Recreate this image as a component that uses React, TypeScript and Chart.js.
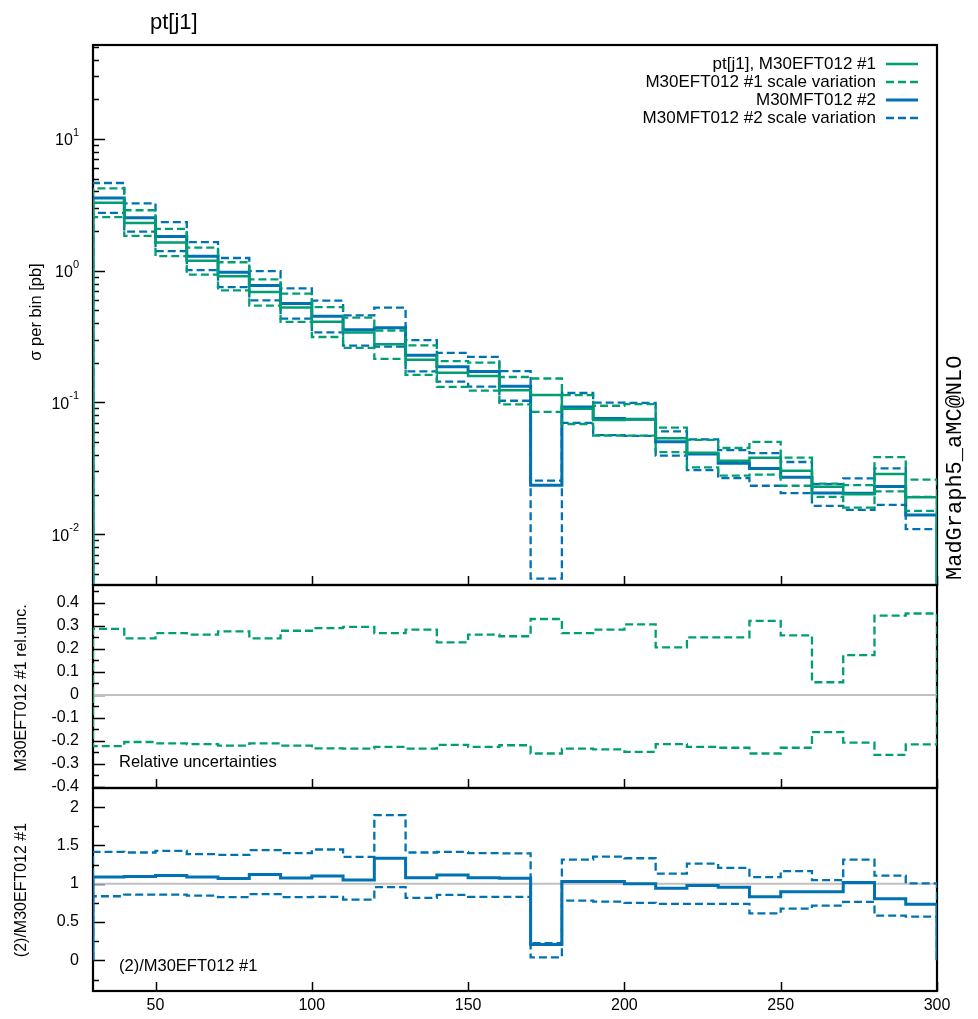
import React, { useEffect, useRef } from 'react';
import { Chart, registerables } from 'chart.js';

Chart.register(...registerables);

// ---- data -------------------------------------------------------------
const binEdges = [30, 40, 50, 60, 70, 80, 90, 100, 110, 120, 130, 140, 150, 160, 170, 180, 190, 200, 210, 220, 230, 240, 250, 260, 270, 280, 290, 300];

// pt[j1] cross section per bin [pb], M30EFT012 #1 (central + scale variation)
const eftCentral = [3.28, 2.31, 1.64, 1.19, 0.91, 0.69, 0.525, 0.41, 0.34, 0.277, 0.211, 0.168, 0.159, 0.124, 0.114, 0.0896, 0.0735, 0.0744, 0.0534, 0.0415, 0.0361, 0.038, 0.0303, 0.0229, 0.0201, 0.0286, 0.0191];
const eftScaleUp = [4.22, 2.88, 2.08, 1.5, 1.16, 0.86, 0.671, 0.529, 0.441, 0.352, 0.271, 0.206, 0.201, 0.156, 0.152, 0.1137, 0.0944, 0.0972, 0.0645, 0.0519, 0.0451, 0.0502, 0.0381, 0.0242, 0.0236, 0.0385, 0.0259];
const eftScaleDown = [2.55, 1.84, 1.29, 0.935, 0.709, 0.544, 0.409, 0.314, 0.26, 0.214, 0.162, 0.1315, 0.123, 0.0968, 0.0849, 0.0686, 0.0561, 0.0559, 0.042, 0.0321, 0.0278, 0.0283, 0.0233, 0.0192, 0.0159, 0.0211, 0.015];

// M30MFT012 #2 (central + scale variation)
const mftCentral = [3.57, 2.53, 1.82, 1.29, 0.974, 0.774, 0.564, 0.451, 0.356, 0.369, 0.228, 0.187, 0.172, 0.133, 0.0235, 0.0923, 0.0757, 0.0744, 0.0503, 0.0406, 0.0345, 0.0315, 0.0271, 0.0205, 0.0204, 0.023, 0.014];
const mftScaleUp = [4.64, 3.25, 2.34, 1.65, 1.25, 0.992, 0.734, 0.593, 0.459, 0.525, 0.297, 0.238, 0.222, 0.173, 0.0255, 0.118, 0.0996, 0.0992, 0.0604, 0.0524, 0.0435, 0.0413, 0.0353, 0.024, 0.0265, 0.0316, 0.0192];
const mftScaleDown = [2.75, 1.98, 1.41, 1.01, 0.751, 0.596, 0.433, 0.34, 0.27, 0.265, 0.172, 0.144, 0.132, 0.103, 0.0046, 0.0699, 0.0564, 0.0558, 0.0394, 0.0306, 0.0266, 0.0233, 0.0205, 0.0164, 0.0153, 0.0167, 0.0109];

// relative scale uncertainty of M30EFT012 #1
const relUncUp = [0.287, 0.246, 0.269, 0.262, 0.276, 0.246, 0.279, 0.29, 0.296, 0.269, 0.284, 0.228, 0.262, 0.255, 0.33, 0.269, 0.284, 0.307, 0.207, 0.25, 0.25, 0.322, 0.259, 0.055, 0.173, 0.345, 0.354];
const relUncDown = [-0.223, -0.205, -0.211, -0.214, -0.221, -0.211, -0.221, -0.233, -0.234, -0.226, -0.234, -0.217, -0.226, -0.219, -0.255, -0.234, -0.237, -0.248, -0.214, -0.226, -0.23, -0.255, -0.23, -0.162, -0.208, -0.261, -0.215];

// (2)/M30EFT012 #1
const ratioCentral = [1.087, 1.096, 1.109, 1.087, 1.07, 1.122, 1.074, 1.1, 1.048, 1.333, 1.079, 1.113, 1.079, 1.072, 0.206, 1.03, 1.03, 1.0, 0.942, 0.978, 0.956, 0.829, 0.895, 0.895, 1.017, 0.803, 0.732];
const ratioUp = [1.416, 1.408, 1.429, 1.386, 1.377, 1.438, 1.399, 1.447, 1.35, 1.895, 1.408, 1.416, 1.399, 1.397, 0.224, 1.316, 1.355, 1.333, 1.131, 1.263, 1.206, 1.087, 1.166, 1.048, 1.316, 1.105, 1.004];
const ratioDown = [0.837, 0.859, 0.859, 0.846, 0.825, 0.864, 0.825, 0.829, 0.793, 0.956, 0.816, 0.855, 0.829, 0.829, 0.04, 0.78, 0.767, 0.75, 0.737, 0.737, 0.737, 0.613, 0.675, 0.714, 0.763, 0.583, 0.57];

// axis ticks
const xTickValues = [50, 100, 150, 200, 250, 300];
const logTickExponents = [-2, -1, 0, 1];
const relTickValues = [0.4, 0.3, 0.2, 0.1, 0, -0.1, -0.2, -0.3, -0.4];
const relTickLabels = ['0.4', '0.3', '0.2', '0.1', '0', '-0.1', '-0.2', '-0.3', '-0.4'];
const ratioTickValues = [2, 1.5, 1, 0.5, 0];
const ratioTickLabels = ['2', '1.5', '1', '0.5', '0'];

const legendLabels = ['pt[j1], M30EFT012 #1', 'M30EFT012 #1 scale variation', 'M30MFT012 #2', 'M30MFT012 #2 scale variation'];

// ---- style ------------------------------------------------------------
const GREEN = '#009e73';
const BLUE = '#0072b2';
const GREY = '#c0c0c0';
const FONT = '"Liberation Sans", Arial, Helvetica, sans-serif';
const FS = 16;
const FS_TEXT = 16.5;
const DASH = [8, 4];
const W_SOLID = 2.5;
const W_BLUE = 3;
const W_DASH = 2.3;

type Pt = { x: number; y: number };

function histSteps(values: number[], base: number): Pt[] {
  const pts: Pt[] = [{ x: binEdges[0], y: base }];
  values.forEach((v, i) => {
    pts.push({ x: binEdges[i], y: v });
    pts.push({ x: binEdges[i + 1], y: v });
  });
  pts.push({ x: binEdges[binEdges.length - 1], y: base });
  return pts;
}

function histSet(values: number[], base: number, color: string, dashed: boolean, width: number) {
  return {
    data: histSteps(values, base),
    borderColor: color,
    borderWidth: width,
    borderDash: dashed ? DASH : [],
    borderCapStyle: 'butt',
    borderJoinStyle: 'miter',
    pointRadius: 0,
    tension: 0,
    fill: false,
  };
}

function line(ctx: CanvasRenderingContext2D, x1: number, y1: number, x2: number, y2: number) {
  ctx.beginPath();
  ctx.moveTo(x1, y1);
  ctx.lineTo(x2, y2);
  ctx.stroke();
}

type FrameCfg = {
  major: number[];
  minor: number[];
  refLine?: number;
  majorLen: number;
  minorLen: number;
};

function framePlugin(cfg: FrameCfg, extra?: (chart: any) => void) {
  return {
    id: 'frame',
    beforeDatasetsDraw(chart: any) {
      const { ctx, chartArea: a } = chart;
      const xs = chart.scales.x;
      const ys = chart.scales.y;
      ctx.save();
      ctx.strokeStyle = '#000';
      ctx.lineWidth = 2.2;
      ctx.strokeRect(a.left, a.top, a.right - a.left, a.bottom - a.top);
      ctx.lineWidth = 1.5;
      for (const v of cfg.major) {
        const p = Math.round(ys.getPixelForValue(v)) + 0.5;
        line(ctx, a.left, p, a.left + cfg.majorLen, p);
      }
      for (const v of cfg.minor) {
        const p = Math.round(ys.getPixelForValue(v)) + 0.5;
        line(ctx, a.left, p, a.left + cfg.minorLen, p);
      }
      for (const v of xTickValues) {
        const p = Math.round(xs.getPixelForValue(v)) + 0.5;
        line(ctx, p, a.bottom, p, a.bottom - 9);
      }
      if (cfg.refLine !== undefined) {
        const p = ys.getPixelForValue(cfg.refLine);
        ctx.strokeStyle = GREY;
        ctx.lineWidth = 2;
        line(ctx, a.left, p, a.right, p);
      }
      ctx.restore();
    },
    afterDraw(chart: any) {
      if (extra) extra(chart);
    },
  };
}

function rotatedText(ctx: CanvasRenderingContext2D, text: string, x: number, y: number, font: string, align: CanvasTextAlign = 'center') {
  ctx.save();
  ctx.translate(x, y);
  ctx.rotate(-Math.PI / 2);
  ctx.font = font;
  ctx.textAlign = align;
  ctx.textBaseline = 'middle';
  ctx.fillStyle = '#000';
  ctx.fillText(text, 0, 0);
  ctx.restore();
}

function baseOptions(opts: { padding: any; showX: boolean; y: any }) {
  return {
    animation: false,
    responsive: false,
    events: [],
    layout: { padding: opts.padding },
    plugins: { legend: { display: false }, tooltip: { enabled: false }, title: { display: false } },
    scales: {
      x: {
        type: 'linear',
        min: 30,
        max: 300,
        display: opts.showX,
        grid: { display: false, drawTicks: false },
        border: { display: false },
        ticks: { color: '#000', font: { family: FONT, size: FS }, padding: 5, maxRotation: 0, autoSkip: false },
        afterBuildTicks: (s: any) => {
          s.ticks = xTickValues.map((v) => ({ value: v }));
        },
        afterFit: (s: any) => {
          s.height = opts.showX ? 28 : 0;
        },
      },
      y: opts.y,
    },
  };
}

function linearY(min: number, max: number, values: number[], labels: string[]) {
  return {
    type: 'linear',
    min,
    max,
    grid: { display: false, drawTicks: false },
    border: { display: false },
    ticks: {
      color: '#000',
      font: { family: FONT, size: FS },
      padding: 14,
      autoSkip: false,
      callback: (v: number) => {
        const i = values.findIndex((t) => Math.abs(t - v) < 1e-9);
        return i >= 0 ? labels[i] : '';
      },
    },
    afterBuildTicks: (s: any) => {
      s.ticks = values.map((v) => ({ value: v }));
    },
    afterFit: (s: any) => {
      s.width = 93;
    },
  };
}

// ---- panels -----------------------------------------------------------
function MainPanel() {
  const ref = useRef<HTMLCanvasElement>(null);
  useEffect(() => {
    const yMin = 0.00411;
    const yMax = 51.8;
    const minor: number[] = [];
    for (let e = -3; e <= 1; e++) {
      for (let k = 2; k <= 9; k++) {
        const v = k * Math.pow(10, e);
        if (v > yMin && v < yMax) minor.push(v);
      }
    }
    const major = logTickExponents.map((e) => Math.pow(10, e));
    const base = 1e-9;
    const chart = new Chart(ref.current!, {
      type: 'line',
      data: {
        datasets: [
          histSet(eftCentral, base, GREEN, false, W_SOLID),
          histSet(eftScaleUp, base, GREEN, true, W_DASH),
          histSet(eftScaleDown, base, GREEN, true, W_DASH),
          histSet(mftCentral, base, BLUE, false, W_BLUE),
          histSet(mftScaleUp, base, BLUE, true, W_DASH),
          histSet(mftScaleDown, base, BLUE, true, W_DASH),
        ] as any,
      },
      options: baseOptions({
        padding: { top: 45, bottom: 15, left: 0, right: 41 },
        showX: false,
        y: {
          type: 'logarithmic',
          min: yMin,
          max: yMax,
          grid: { display: false, drawTicks: false },
          border: { display: false },
          ticks: { display: false },
          afterBuildTicks: (s: any) => {
            s.ticks = major.map((v) => ({ value: v }));
          },
          afterFit: (s: any) => {
            s.width = 93;
          },
        },
      }) as any,
      plugins: [
        framePlugin({ major, minor, majorLen: 12, minorLen: 6 }, (c: any) => {
          const { ctx, chartArea: a } = c;
          const ys = c.scales.y;
          ctx.save();
          ctx.fillStyle = '#000';
          // decade labels with superscript exponents
          for (const e of logTickExponents) {
            const p = ys.getPixelForValue(Math.pow(10, e));
            const exp = String(e);
            ctx.font = `11px ${FONT}`;
            const we = ctx.measureText(exp).width;
            ctx.font = `${FS}px ${FONT}`;
            const wb = ctx.measureText('10').width;
            const right = a.left - 14;
            ctx.textBaseline = 'middle';
            ctx.textAlign = 'left';
            ctx.fillText('10', right - we - wb, p + 2);
            ctx.font = `11px ${FONT}`;
            ctx.fillText(exp, right - we, p - 6);
          }
          // title
          ctx.font = `22px ${FONT}`;
          ctx.textAlign = 'left';
          ctx.textBaseline = 'alphabetic';
          ctx.fillText('pt[j1]', 150, 29);
          // legend
          const colors = [GREEN, GREEN, BLUE, BLUE];
          legendLabels.forEach((lab, i) => {
            const y = 64 + i * 18;
            ctx.font = `17px ${FONT}`;
            ctx.textAlign = 'right';
            ctx.textBaseline = 'middle';
            ctx.fillStyle = '#000';
            ctx.fillText(lab, 876, y);
            ctx.strokeStyle = colors[i];
            ctx.lineWidth = i === 2 ? W_BLUE : i === 0 ? W_SOLID : W_DASH;
            ctx.setLineDash(i % 2 === 1 ? DASH : []);
            line(ctx, 886, y, 918, y);
            ctx.setLineDash([]);
          });
          ctx.restore();
          rotatedText(ctx, '\u03c3 per bin [pb]', 36, 312, `${FS_TEXT}px ${FONT}`);
          rotatedText(ctx, 'MadGraph5_aMC@NLO', 955, 580, `22px "Liberation Mono", "Courier New", monospace`, 'left');
        }),
      ],
    });
    return () => chart.destroy();
  }, []);
  return <canvas ref={ref} width={978} height={600} style={{ position: 'absolute', left: 0, top: 0 }} />;
}

function RelUncPanel() {
  const ref = useRef<HTMLCanvasElement>(null);
  useEffect(() => {
    const major = relTickValues;
    const minor: number[] = [];
    for (let k = -8; k <= 9; k++) if (k % 2 !== 0) minor.push(k * 0.05);
    const chart = new Chart(ref.current!, {
      type: 'line',
      data: {
        datasets: [histSet(relUncUp, 0, GREEN, true, W_DASH), histSet(relUncDown, 0, GREEN, true, W_DASH)] as any,
      },
      options: baseOptions({
        padding: { top: 25, bottom: 25, left: 0, right: 41 },
        showX: false,
        y: linearY(-0.405, 0.478, relTickValues, relTickLabels),
      }) as any,
      plugins: [
        framePlugin({ major, minor, refLine: 0, majorLen: 12, minorLen: 6 }, (c: any) => {
          const { ctx } = c;
          ctx.save();
          ctx.fillStyle = '#000';
          ctx.font = `${FS_TEXT}px ${FONT}`;
          ctx.textAlign = 'left';
          ctx.textBaseline = 'middle';
          ctx.fillText('Relative uncertainties', 119, 762 - 560);
          ctx.restore();
          rotatedText(ctx, 'M30EFT012 #1 rel.unc.', 22, 688 - 560, `${FS}px ${FONT}`);
        }),
      ],
    });
    return () => chart.destroy();
  }, []);
  return <canvas ref={ref} width={978} height={253} style={{ position: 'absolute', left: 0, top: 560 }} />;
}

function RatioPanel() {
  const ref = useRef<HTMLCanvasElement>(null);
  useEffect(() => {
    const major = ratioTickValues;
    const minor = [-0.25, 0.25, 0.75, 1.25, 1.75];
    const chart = new Chart(ref.current!, {
      type: 'line',
      data: {
        datasets: [
          histSet(ratioCentral, 0, BLUE, false, W_BLUE),
          histSet(ratioUp, 0, BLUE, true, W_DASH),
          histSet(ratioDown, 0, BLUE, true, W_DASH),
        ] as any,
      },
      options: baseOptions({
        padding: { top: 25, bottom: 0, left: 0, right: 41 },
        showX: true,
        y: linearY(-0.4, 2.25, ratioTickValues, ratioTickLabels),
      }) as any,
      plugins: [
        framePlugin({ major, minor, refLine: 1, majorLen: 12, minorLen: 6 }, (c: any) => {
          const { ctx } = c;
          ctx.save();
          ctx.fillStyle = '#000';
          ctx.font = `${FS_TEXT}px ${FONT}`;
          ctx.textAlign = 'left';
          ctx.textBaseline = 'middle';
          ctx.fillText('(2)/M30EFT012 #1', 119, 966 - 763);
          ctx.restore();
          rotatedText(ctx, '(2)/M30EFT012 #1', 22, 890 - 763, `${FS}px ${FONT}`);
        }),
      ],
    });
    return () => chart.destroy();
  }, []);
  return <canvas ref={ref} width={978} height={256} style={{ position: 'absolute', left: 0, top: 763 }} />;
}

export default function App() {
  return (
    <div style={{ position: 'absolute', left: 0, top: 0, width: 978, height: 1019, background: '#fff', overflow: 'hidden' }}>
      <MainPanel />
      <RelUncPanel />
      <RatioPanel />
    </div>
  );
}
